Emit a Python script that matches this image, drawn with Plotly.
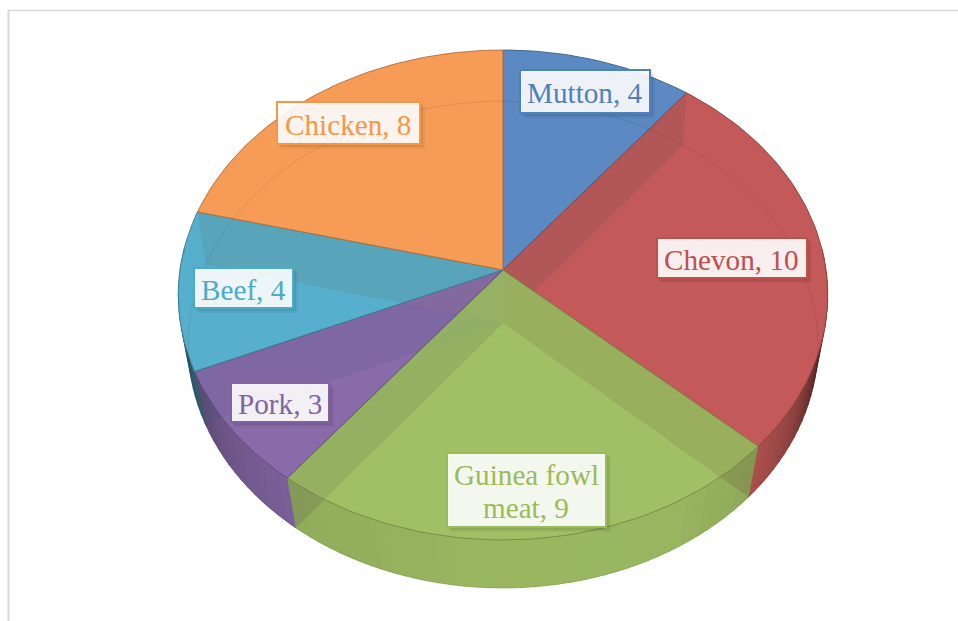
import numpy as np
import plotly.graph_objects as go

categories = ["Mutton", "Chevon", "Guinea fowl meat", "Pork", "Beef", "Chicken"]
values = [4, 10, 9, 3, 4, 8]
label_text = ["Mutton, 4", "Chevon, 10", "Guinea fowl<br>meat, 9", "Pork, 3", "Beef, 4", "Chicken, 8"]
colors = [(91, 138, 193), (195, 91, 89), (161, 191, 101), (137, 107, 170), (86, 176, 205), (246, 156, 86)]
label_colors = ["#4F81BD", "#C0504D", "#9BBB59", "#8064A2", "#4BACC6", "#F79646"]
label_boxes = [(520, 650, 70, 113), (657, 807, 238, 278), (447, 606, 453, 527),
               (231, 329, 383, 422), (194, 293, 268, 308), (277, 420, 102, 144)]

TOP = dict(cy=270, a=242.4, b=323, k=0.102)
BOT = dict(cy=323, a=241.5, b=313.7, k=0.0887)
CX = 503
shade_t = [85, 100, 110, 120, 132, 150, 180, 218, 235, 245, 248, 275]
shade_f = [0.25, 0.3, 0.5, 0.72, 0.88, 0.95, 0.96, 0.9, 0.8, 0.7, 0.5, 0.45]
rim_spans = [(1, 55, 124, 0.85), (4, 248, 274, 0.93)]

def project(deg, d, r=1.0):
    t = np.radians(deg)
    u, v = r * np.sin(t), r * np.cos(t)
    w = 1 + d["k"] * v
    return CX + d["b"] * u / w, d["cy"] - d["a"] * v / w

def arc(a0, a1, d, r=1.0):
    n = max(2, int(abs(a1 - a0) / 1.5) + 2)
    return project(np.linspace(a0, a1, n), d, r)

def rgba(c, al=1.0, f=1.0):
    return "rgba(%d,%d,%d,%.3f)" % (c[0] * f, c[1] * f, c[2] * f, al)

fig = go.Figure()

def poly(xs, ys, fill, line=None, lw=0):
    fig.add_trace(go.Scatter(x=list(xs), y=list(ys), mode="lines", fill="toself", fillcolor=fill,
                             line=dict(color=line or "rgba(0,0,0,0)", width=lw),
                             hoverinfo="skip", showlegend=False))

def sector(a0, a1, d):
    x, y = arc(a0, a1, d)
    return [CX, *x, CX], [d["cy"], *y, d["cy"]]

def radial(a):
    xt, yt = project(a, TOP)
    xb, yb = project(a, BOT)
    return [CX, CX, xb, xt, CX], [TOP["cy"], BOT["cy"], yb, yt, TOP["cy"]]

edges = np.concatenate([[0], np.cumsum(values)]) * 360.0 / sum(values)
spans = list(zip(edges[:-1], edges[1:]))
n = len(values)

# base: opaque top and bottom faces
for i, (a0, a1) in enumerate(spans):
    poly(*sector(a0, a1, TOP), rgba(colors[i]))
for i, (a0, a1) in enumerate(spans):
    poly(*sector(a0, a1, BOT), rgba(colors[i]))

# radial walls
wall_cols = []
for i in range(n):
    mix = tuple((colors[i][j] + colors[(i + 1) % n][j]) / 2 * 0.6 for j in range(3))
    wall_cols.append(mix)
    poly(*radial(edges[i + 1]), rgba(mix))

# outer walls with shading
for i, (a0, a1) in enumerate(spans):
    lo, hi = max(a0, 85), min(a1, 275)
    if hi <= lo:
        continue
    st = np.arange(lo, hi, 2.0).tolist() + [hi]
    for s0, s1 in zip(st[:-1], st[1:]):
        xt, yt = arc(s0, s1 + 0.2, TOP)
        xb, yb = arc(s0, s1 + 0.2, BOT)
        f = float(np.interp((s0 + s1) / 2, shade_t, shade_f))
        c = rgba(colors[i], 1, f)
        poly([*xt, *xb[::-1]], [*yt, *yb[::-1]], c, c, 0.5)

# keep the dark side walls from showing through the rim of the top face
for i, a0, a1, r in rim_spans:
    xo, yo = arc(a0, a1, TOP)
    xi, yi = arc(a0, a1, TOP, r)
    poly([*xo, *xi[::-1]], [*yo, *yi[::-1]], rgba(colors[i]))

# radial walls seen through outer walls
for i in range(n):
    poly(*radial(edges[i + 1]), rgba(wall_cols[i], 0.22))

# translucent top faces
for i, (a0, a1) in enumerate(spans):
    poly(*sector(a0, a1, TOP), rgba(colors[i], 0.85), rgba(colors[i], 0.9, 0.72), 1)

# faint rim of the lower disc
xr, yr = arc(0, 360, BOT)
fig.add_trace(go.Scatter(x=xr, y=yr, mode="lines", line=dict(color="rgba(40,20,20,0.10)", width=1),
                         hoverinfo="skip", showlegend=False))

shapes = [
    dict(type="line", x0=8.5, x1=8.5, y0=10, y1=621, line=dict(color="#D9D9D9", width=2)),
    dict(type="line", x0=8, x1=958, y0=10.5, y1=10.5, line=dict(color="#D9D9D9", width=1.5)),
]
annotations = []
PITCH = 33
for txt, col, (x0, x1, y0, y1) in zip(label_text, label_colors, label_boxes):
    for off, al in ((5, 0.05), (3, 0.07)):
        shapes.append(dict(type="rect", x0=x0 + off - 1, x1=x1 + off, y0=y0 + off - 1, y1=y1 + off,
                           fillcolor="rgba(0,0,0,%.2f)" % al, line=dict(width=0), layer="above"))
    shapes.append(dict(type="rect", x0=x0, x1=x1, y0=y0, y1=y1, fillcolor="rgba(255,255,255,0.9)",
                       line=dict(color=col, width=2), layer="above"))
    lines = txt.split("<br>")
    for k, ln in enumerate(lines):
        yc = (y0 + y1) / 2 + 1.5 + (k - (len(lines) - 1) / 2) * PITCH
        annotations.append(dict(x=(x0 + x1) / 2 - 0.5, y=yc, text=ln, showarrow=False, xref="x", yref="y",
                                align="center", font=dict(family="Liberation Serif", size=29.2, color=col)))

fig.update_layout(
    width=958, height=621, margin=dict(l=0, r=0, t=0, b=0),
    paper_bgcolor="white", plot_bgcolor="white", showlegend=False,
    xaxis=dict(range=[0, 958], visible=False, fixedrange=True),
    yaxis=dict(range=[621, 0], visible=False, fixedrange=True),
    shapes=shapes, annotations=annotations,
)
fig.write_html("out.html", config=dict(displayModeBar=False),
               post_script="document.body.style.margin='0';document.body.style.overflow='hidden';")
